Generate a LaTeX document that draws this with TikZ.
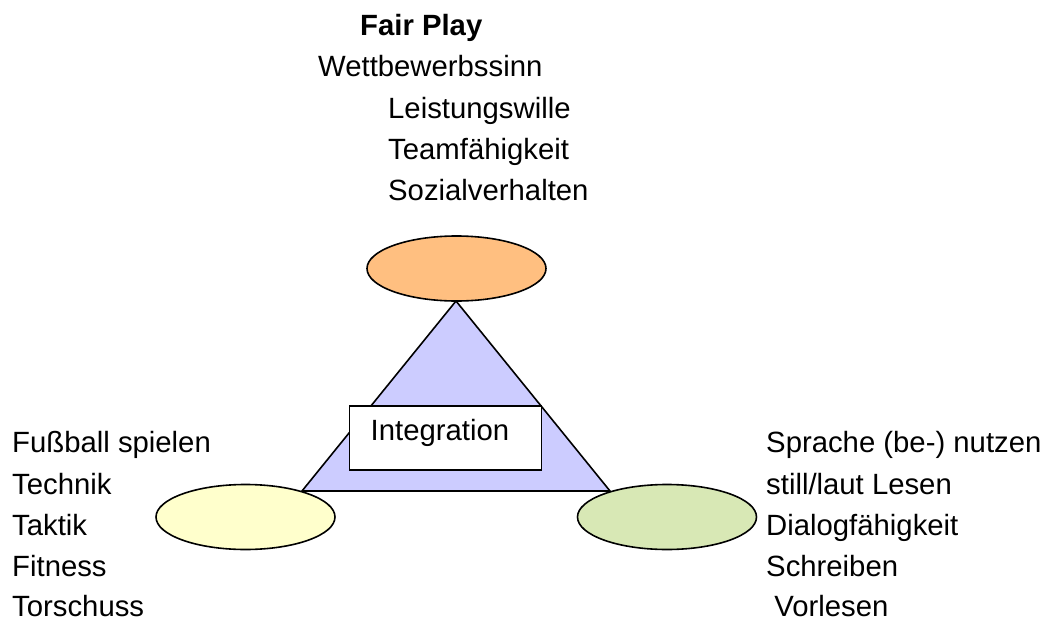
\documentclass[tikz,border=0pt]{standalone}
\usepackage{fontspec}
\setmainfont{Liberation Sans}
\usetikzlibrary{shapes.geometric}
\definecolor{orangefill}{HTML}{FFBF80}
\definecolor{yellowfill}{HTML}{FFFFCC}
\definecolor{greenfill}{HTML}{D8E8B5}
\definecolor{trifill}{HTML}{CCCCFF}
\tikzset{
  lbl/.style={anchor=base west, inner sep=0pt, font=\fontsize{29.3}{34}\selectfont},
  oval/.style={ellipse, draw=black, line width=1.6pt, minimum width=179pt, minimum height=65pt, inner sep=0pt},
  edgeline/.style={draw=black, line width=1.6pt, line join=miter},
}
\begin{document}
\begin{tikzpicture}[x=1pt,y=-1pt]
\useasboundingbox[fill=white] (0,0) rectangle (1047,621);
% triangle
\coordinate (apex) at (456,301);
\coordinate (bl) at (302,491);
\coordinate (br) at (610,491);
\path[edgeline, fill=trifill] (apex) -- (bl) -- (br) -- cycle;
% ellipses
\node[oval, fill=orangefill] (top) at (456.5,268.5) {};
\node[oval, fill=yellowfill] (left) at (245.5,517) {};
\node[oval, fill=greenfill] (right) at (667,517) {};
% integration box
\node[draw=black, line width=1.6pt, fill=white, minimum width=192pt, minimum height=64pt, inner sep=0pt, anchor=north west] (box) at (348.5,405) {};
\node[lbl] (integ) at (370.5,440) {Integration};
% top texts
\node[lbl, font=\fontsize{29.3}{34}\selectfont\bfseries] (fair) at (360,35) {Fair Play};
\node[lbl] (t1) at (318,76) {Wettbewerbssinn};
\node[lbl] (t2) at (388,118) {Leistungswille};
\node[lbl] (t3) at (388,159) {Teamfähigkeit};
\node[lbl] (t4) at (388,200) {Sozialverhalten};
% left texts
\node[lbl] (l1) at (12,452) {Fußball spielen};
\node[lbl] (l2) at (12,494) {Technik};
\node[lbl] (l3) at (12,535) {Taktik};
\node[lbl] (l4) at (12,576) {Fitness};
\node[lbl] (l5) at (12,616.5) {Torschuss};
% right texts
\node[lbl] (r1) at (766,452) {Sprache (be-) nutzen};
\node[lbl] (r2) at (766,494) {still/laut Lesen};
\node[lbl] (r3) at (766,535) {Dialogfähigkeit};
\node[lbl] (r4) at (766,576) {Schreiben};
\node[lbl] (r5) at (766,616.5) {\ Vorlesen};
\end{tikzpicture}
\end{document}
